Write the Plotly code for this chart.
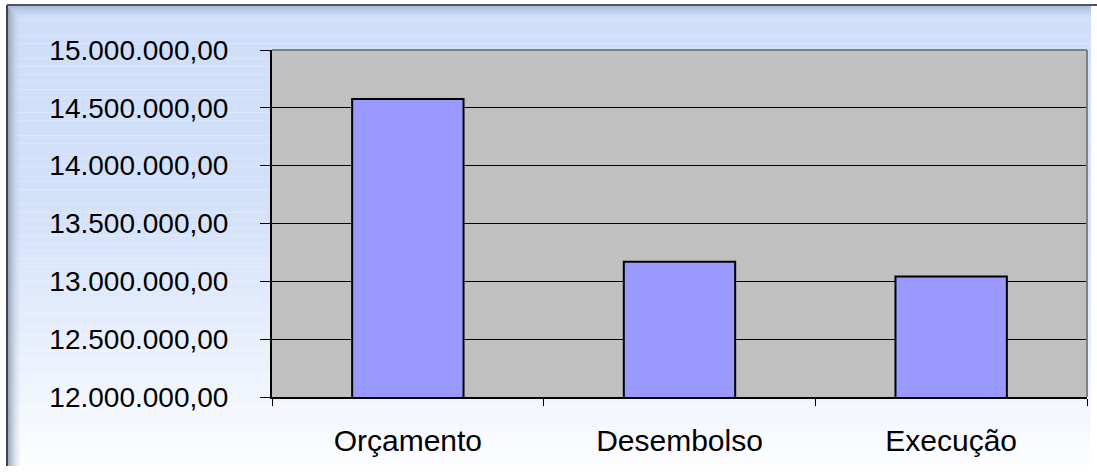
import plotly.graph_objects as go

categories = ["Orçamento", "Desembolso", "Execução"]
values = [14577000, 13170000, 13042000]
y_min, y_max, y_step = 12000000, 15000000, 500000

W, H = 1097, 473
L, R, T, B = 272, 1087, 50, 397

def px2paper_x(px):
    return (px - L) / (R - L)

def px2paper_y(py):
    return (B - py) / (B - T)

def lerp(c1, c2, t):
    return tuple(int(round(a + (b - a) * t)) for a, b in zip(c1, c2))

shapes = []
# gradient background for chart area
top_c = (207, 222, 249)
mid_c = (211, 225, 249)
bot_c = (252, 253, 255)
x0a, x1a, y0a, y1a = 7, 1091, 5, 466
n = 60
for i in range(n):
    ya = y0a + (y1a - y0a) * i / n
    yb = y0a + (y1a - y0a) * (i + 1) / n
    t = (i + 0.5) / n
    if t < 0.45:
        c = lerp(top_c, mid_c, t / 0.45)
    else:
        c = lerp(mid_c, bot_c, (t - 0.45) / 0.55)
    shapes.append(dict(type="rect", xref="paper", yref="paper", layer="below",
                       x0=px2paper_x(x0a), x1=px2paper_x(x1a),
                       y0=px2paper_y(yb), y1=px2paper_y(ya),
                       fillcolor="rgb(%d,%d,%d)" % c, line=dict(width=0)))
# left bevel
bevel_dark = (150, 160, 180)
for k in range(12):
    t = k / 12
    c = lerp(bevel_dark, (205, 218, 244), t)
    shapes.append(dict(type="rect", xref="paper", yref="paper", layer="below",
                       x0=px2paper_x(8 + k), x1=px2paper_x(9 + k),
                       y0=px2paper_y(y1a), y1=px2paper_y(6 + k),
                       fillcolor="rgba(%d,%d,%d,%.2f)" % (c + (0.8 * (1 - t) + 0.1,)),
                       line=dict(width=0)))
# top bevel
for k in range(10):
    t = k / 10
    c = lerp((175, 190, 215), (207, 222, 249), t)
    shapes.append(dict(type="rect", xref="paper", yref="paper", layer="below",
                       x0=px2paper_x(8 + k), x1=px2paper_x(1091),
                       y0=px2paper_y(7 + k), y1=px2paper_y(6 + k),
                       fillcolor="rgb(%d,%d,%d)" % c, line=dict(width=0)))
# outer border lines (left and top)
shapes.append(dict(type="line", xref="paper", yref="paper", layer="below",
                   x0=px2paper_x(7), x1=px2paper_x(7),
                   y0=px2paper_y(y1a), y1=px2paper_y(5),
                   line=dict(color="#3c4250", width=2)))
shapes.append(dict(type="line", xref="paper", yref="paper", layer="below",
                   x0=px2paper_x(7), x1=px2paper_x(1097),
                   y0=px2paper_y(5), y1=px2paper_y(5),
                   line=dict(color="#4a5468", width=2)))
# plot area gray background (drawn above gradient, below gridlines)
shapes.append(dict(type="rect", xref="paper", yref="paper", layer="below",
                   x0=0, x1=1, y0=0, y1=1, fillcolor="#C0C0C0", line=dict(width=0)))
# plot area top/right gray border
shapes.append(dict(type="line", xref="paper", yref="paper", layer="above",
                   x0=0, x1=1, y0=1, y1=1, line=dict(color="#808080", width=2)))
shapes.append(dict(type="line", xref="paper", yref="paper", layer="above",
                   x0=1, x1=1, y0=0, y1=1, line=dict(color="#808080", width=2)))

fig = go.Figure(go.Bar(
    x=categories, y=values,
    marker=dict(color="#9999FF", line=dict(color="black", width=2)),
    width=0.41,
))

font_family = "Liberation Sans, Arial, sans-serif"

fig.update_layout(
    width=W, height=H,
    margin=dict(l=L, r=W - R, t=T, b=H - B, pad=0),
    paper_bgcolor="white",
    plot_bgcolor="#C0C0C0",
    separators=",.",
    showlegend=False,
    shapes=shapes,
    font=dict(family=font_family, size=28, color="black"),
)
fig.update_yaxes(
    range=[y_min, y_max], tick0=y_min, dtick=y_step, tickformat=",.2f",
    showgrid=True, gridcolor="#000000", gridwidth=1,
    showline=True, linecolor="black", linewidth=2,
    ticks="outside", ticklen=10, tickcolor="black", tickwidth=1,
    ticklabelstandoff=26, zeroline=False,
    tickfont=dict(family=font_family, size=28, color="black"),
)
fig.update_xaxes(
    showline=True, linecolor="black", linewidth=2,
    ticks="outside", tickson="boundaries", ticklen=7, tickcolor="black",
    ticklabelstandoff=16,
    tickfont=dict(family=font_family, size=30, color="black"),
)

fig.write_html("out.html", config={"displayModeBar": False},
               post_script="document.body.style.margin='0';")
